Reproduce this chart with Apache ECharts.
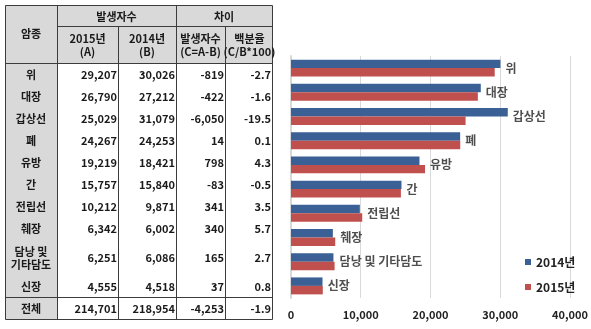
<!DOCTYPE html>
<html><head><meta charset="utf-8">
<script src="https://cdn.jsdelivr.net/npm/echarts@6/dist/echarts.min.js"></script>
<style>html,body{margin:0;padding:0;background:#fff}#c{width:591px;height:329px}</style>
</head><body><div id="c"></div>
<script>
const cancers = ['위','대장','갑상선','폐','유방','간','전립선','췌장','담낭 및\n기타담도','신장'];
const chartNames = ['위','대장','갑상선','폐','유방','간','전립선','췌장','담낭 및 기타담도','신장'];
const v2015 = [29207,26790,25029,24267,19219,15757,10212,6342,6251,4555];
const v2014 = [30026,27212,31079,24253,18421,15840,9871,6002,6086,4518];
const diffTxt = ['-819','-422','-6,050','14','798','-83','341','340','165','37'];
const pctTxt = ['-2.7','-1.6','-19.5','0.1','4.3','-0.5','3.5','5.7','2.7','0.8'];
const total = ['전체','214,701','218,954','-4,253','-1.9'];
const xTicks = [0,10000,20000,30000,40000];

const F = '"Noto Sans CJK KR","Noto Sans",sans-serif';
const fmt = v => v.toLocaleString('en-US');

// table geometry
const cx = [5,57,118,176,225,272];
const yTop = 5, yMid = 26, yHead = 63;
const rowH = cancers.map(c => c.includes('\n') ? 36 : 22);
const rowY = []; let yy = yHead; rowH.forEach(h => { rowY.push(yy); yy += h; });
const yTotal = yy, yBot = yy + 22;
const G = [];
const LC = '#3c3c3c', GRAY = '#d9d9d9';
G.push({type:'rect', shape:{x:cx[0],y:yTop,width:cx[5]-cx[0],height:yHead-yTop}, style:{fill:GRAY}});
G.push({type:'rect', shape:{x:cx[0],y:yHead,width:cx[1]-cx[0],height:yBot-yHead}, style:{fill:GRAY}});
function L(x1,y1,x2,y2){G.push({type:'line', shape:{x1:x1+.5,y1:y1+.5,x2:x2+.5,y2:y2+.5}, style:{stroke:LC,lineWidth:1}});}
L(cx[0],yTop,cx[5],yTop); L(cx[0],yBot,cx[5],yBot);
L(cx[0],yTop,cx[0],yBot); L(cx[5],yTop,cx[5],yBot);
L(cx[1],yTop,cx[1],yBot); L(cx[3],yTop,cx[3],yBot);
L(cx[2],yMid,cx[2],yBot); L(cx[4],yMid,cx[4],yBot);
L(cx[1],yMid,cx[5],yMid); L(cx[0],yHead,cx[5],yHead); L(cx[0],yTotal,cx[5],yTotal);
function T(txt,x,y,align){G.push({type:'text', x:x, y:y, style:{text:txt, font:'bold 11px '+F, fill:'#1a1a1a', align:align, verticalAlign:'middle', lineHeight:13}});}
T('암종',(cx[0]+cx[1])/2,(yTop+yHead)/2,'center');
T('발생자수',(cx[1]+cx[3])/2,(yTop+yMid)/2+1,'center');
T('차이',(cx[3]+cx[5])/2,(yTop+yMid)/2+1,'center');
T('2015년\n(A)',(cx[1]+cx[2])/2,(yMid+yHead)/2+1,'center');
T('2014년\n(B)',(cx[2]+cx[3])/2,(yMid+yHead)/2+1,'center');
T('발생자수\n(C=A-B)',(cx[3]+cx[4])/2,(yMid+yHead)/2+1,'center');
T('백분율\n(C/B*100)',(cx[4]+cx[5])/2+1,(yMid+yHead)/2+1,'center');
cancers.forEach((c,i)=>{
  const ym = rowY[i]+rowH[i]/2+1;
  T(c,(cx[0]+cx[1])/2,ym,'center');
  T(fmt(v2015[i]),cx[2]-1,ym,'right');
  T(fmt(v2014[i]),cx[3]-1,ym,'right');
  T(diffTxt[i],cx[4]-1,ym,'right');
  T(pctTxt[i],cx[5]-1,ym,'right');
});
const ymT = (yTotal+yBot)/2+1;
T(total[0],(cx[0]+cx[1])/2,ymT,'center');
T(total[1],cx[2]-1,ymT,'right'); T(total[2],cx[3]-1,ymT,'right');
T(total[3],cx[4]-1,ymT,'right'); T(total[4],cx[5]-1,ymT,'right');

const labelPos = v2014.map((v,i)=>Math.max(v,v2015[i]));

const chart = echarts.init(document.getElementById('c'), null, {renderer:'canvas'});
chart.setOption({
  animation:false,
  graphic:G,
  legend:{orient:'vertical', left:520, top:251, itemWidth:6, itemHeight:6, itemGap:13, icon:'rect',
    textStyle:{fontFamily:F, fontWeight:'bold', fontSize:12, color:'#222'},
    data:['2014년','2015년']},
  grid:{left:291, right:21, top:56, bottom:31},
  xAxis:{type:'value', min:0, max:40000, interval:10000,
    axisLine:{show:false}, axisTick:{show:false},
    splitLine:{lineStyle:{color:'#d9d9d9'}},
    axisLabel:{fontFamily:F, fontWeight:'bold', fontSize:11, color:'#222', margin:11, formatter:v=>fmt(v)}},
  yAxis:{type:'category', inverse:true, data:chartNames,
    axisLine:{lineStyle:{color:'#d9d9d9', width:2}}, axisTick:{show:false}, axisLabel:{show:false}},
  series:[
    {name:'2014년', type:'bar', data:v2014, barCategoryGap:'30%', barGap:'0%', itemStyle:{color:'#3a6096'}},
    {name:'2015년', type:'bar', data:v2015, itemStyle:{color:'#c0504d'}},
    {name:'lbl', type:'scatter', data:labelPos, symbolSize:0, silent:true,
     label:{show:true, position:'right', distance:5, formatter:p=>chartNames[p.dataIndex],
       fontFamily:F, fontWeight:'bold', fontSize:12, color:'#222'}}
  ]
});
</script></body></html>
